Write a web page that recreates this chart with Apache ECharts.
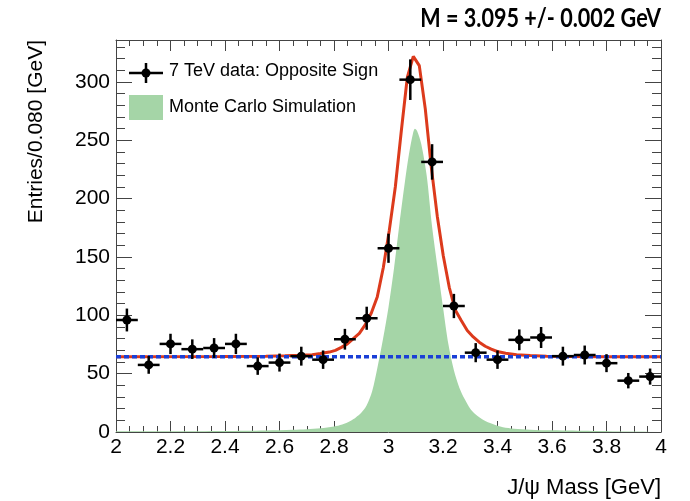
<!DOCTYPE html>
<html><head><meta charset="utf-8">
<script src="https://cdn.jsdelivr.net/npm/echarts@6/dist/echarts.min.js"></script>
<style>html,body{margin:0;padding:0;background:#fff}#c{width:690px;height:501px}</style>
</head><body><div id="c"></div>
<script>
// ---- data ----
const binWidth = 0.08;
const binCenters = [2.04,2.12,2.20,2.28,2.36,2.44,2.52,2.60,2.68,2.76,2.84,2.92,3.00,3.08,3.16,3.24,3.32,3.40,3.48,3.56,3.64,3.72,3.80,3.88,3.96];
const entries    = [96,57.5,75.5,71,72,75.5,56.5,59.5,65,62,79.5,97.5,157.5,302,231.5,108,68,62,79,81,65,66,59,44,47.5];
const entryErrors= [9.8,7.6,8.7,8.4,8.5,8.7,7.5,7.7,8.1,7.9,8.9,9.9,12.5,17.4,15.2,10.4,8.2,7.9,8.9,9.0,8.1,8.1,7.7,6.6,6.9];

const fitX = [2.00,2.40,2.55,2.62,2.68,2.72,2.75,2.783,2.805,2.827,2.849,2.871,2.893,2.915,2.937,2.959,2.981,3.003,3.025,3.047,3.069,3.091,3.113,3.135,3.157,3.179,3.201,3.223,3.245,3.267,3.289,3.311,3.333,3.355,3.377,3.399,3.43,3.47,3.52,3.58,3.66,3.80,4.00];
const fitY = [64.6,64.7,64.9,65.3,65.7,66.3,67.2,68.5,70,72.5,75.5,80,84.5,92,102,116,141,173,210,258,304,322,314,277,227,185,151,124,104.5,95.5,87,81.5,77,73.5,71,69,67.5,66.3,65.5,65.0,64.8,64.6,64.6];

const mcX = [2.00,2.20,2.40,2.55,2.65,2.70,2.75,2.80,2.83,2.86,2.88,2.90,2.92,2.94,2.96,2.98,3.00,3.02,3.04,3.06,3.075,3.09,3.097,3.105,3.12,3.14,3.16,3.18,3.20,3.22,3.24,3.26,3.28,3.30,3.32,3.35,3.38,3.42,3.46,3.52,3.60,3.75,4.00];
const mcY = [0.5,0.6,0.9,1.3,1.9,2.4,3.2,4.8,6.5,9.5,12.5,16.5,23,35,56,80,107,140,178,214,238,256,260,258,247,220,176,141,107,75,53,38,28,20,15,10,7,4,2.8,2.0,1.4,0.9,0.5];

const bkgX = [2.0, 4.0];
const bkgY = [64.6, 64.6];

const xMin = 2, xMax = 4, xStep = 0.2;
const yMin = 0, yMax = 336, yStep = 50;
const titleText = 'M = 3.095 +/- 0.002 GeV';
const xTitle = 'J/\u03C8 Mass [GeV]';
const yTitle = 'Entries/0.080 [GeV]';
const legendData = '7 TeV data: Opposite Sign';
const legendMC = 'Monte Carlo Simulation';

// ---- chart ----
const FONT = '"Liberation Sans", Arial, Helvetica, sans-serif';
const axisCol = '#444';
const chart = echarts.init(document.getElementById('c'), null, {renderer:'canvas'});
const zip = (a,b) => a.map((v,i)=>[v,b[i]]);

function xAxisCfg(pos, labels){
  return {
    type:'value', position:pos, min:xMin, max:xMax, interval:xStep,
    axisLine:{show:true, onZero:false, lineStyle:{color:axisCol, width:1}},
    axisTick:{show:true, inside:true, length:11, lineStyle:{color:axisCol, width:1}},
    minorTick:{show:true, splitNumber:4, length:6, lineStyle:{color:axisCol, width:1}},
    splitLine:{show:false},
    axisLabel:{show:labels, margin:5, fontSize:21, color:'#000', fontFamily:FONT,
      formatter: v => String(Math.round(v*10)/10)}
  };
}
function yAxisCfg(pos, labels){
  return {
    type:'value', position:pos, min:yMin, max:yMax, interval:yStep,
    axisLine:{show:true, onZero:false, lineStyle:{color:axisCol, width:1}},
    axisTick:{show:true, inside:true, length:16, lineStyle:{color:axisCol, width:1}},
    minorTick:{show:true, splitNumber:5, length:9, lineStyle:{color:axisCol, width:1}},
    splitLine:{show:false},
    axisLabel:{show:labels, margin:6, fontSize:21, color:'#000', fontFamily:FONT,
      showMaxLabel:false,
      formatter: v => (v % yStep === 0 ? String(v) : '')}
  };
}

const option = {
  backgroundColor:'#fff',
  animation:false,
  grid:{left:116, right:29, top:40, bottom:69, containLabel:false},
  xAxis:[xAxisCfg('bottom', true), xAxisCfg('top', false)],
  yAxis:[yAxisCfg('left', true), yAxisCfg('right', false)],
  series:[
    {name:legendMC, type:'line', data:zip(mcX, mcY), showSymbol:false, smooth:0.3,
      lineStyle:{width:0}, areaStyle:{color:'#a5d5a7', opacity:1}, z:1},
    {name:'fit', type:'line', data:zip(fitX, fitY), showSymbol:false, smooth:false,
      lineStyle:{color:'#dc3a1c', width:3}, z:2},
    {name:'background', type:'line', data:zip(bkgX, bkgY), showSymbol:false,
      lineStyle:{color:'#1a3fd6', width:3.5, type:[5,3]}, z:3},
    {name:legendData, type:'custom', z:5,
      data: binCenters.map((x,i)=>[x, entries[i], entryErrors[i]]),
      encode:{x:0, y:1},
      renderItem:function(params, api){
        const x = api.value(0), y = api.value(1), e = api.value(2);
        const c = api.coord([x,y]);
        const l = api.coord([x-binWidth/2,y]), r = api.coord([x+binWidth/2,y]);
        const t = api.coord([x,y+e]), b = api.coord([x,y-e]);
        const st = {stroke:'#000', lineWidth:2.5};
        return {type:'group', children:[
          {type:'line', shape:{x1:l[0],y1:l[1],x2:r[0],y2:r[1]}, style:st},
          {type:'line', shape:{x1:t[0],y1:t[1],x2:b[0],y2:b[1]}, style:st},
          {type:'circle', shape:{cx:c[0],cy:c[1],r:4.5}, style:{fill:'#000'}}
        ]};
      }
    }
  ],
  graphic:[
    // title
    {type:'text', x:661, y:18, scaleX:0.8, z:10, style:{text:titleText, font:'bold 27px Lato, "Open Sans", sans-serif', fill:'#000', textAlign:'right', textVerticalAlign:'middle', align:'right', verticalAlign:'middle'}},
    // legend
    {type:'line', shape:{x1:129,y1:73,x2:163,y2:73}, style:{stroke:'#000', lineWidth:2.5}, z:10},
    {type:'line', shape:{x1:146,y1:63,x2:146,y2:83}, style:{stroke:'#000', lineWidth:2.5}, z:10},
    {type:'circle', shape:{cx:146,cy:73,r:4.5}, style:{fill:'#000'}, z:10},
    {type:'text', x:169, y:71, z:10, style:{text:legendData, font:'18px '+FONT, fill:'#000', textAlign:'left', textVerticalAlign:'middle', align:'left', verticalAlign:'middle'}},
    {type:'rect', shape:{x:129,y:95,width:34,height:25}, style:{fill:'#a5d5a7'}, z:10},
    {type:'text', x:169, y:107, z:10, style:{text:legendMC, font:'18px '+FONT, fill:'#000', textAlign:'left', textVerticalAlign:'middle', align:'left', verticalAlign:'middle'}},
    // axis titles
    {type:'text', x:36, y:40, rotation:Math.PI/2, z:10, style:{text:yTitle, font:'21px '+FONT, fill:'#000', textAlign:'right', textVerticalAlign:'middle', align:'right', verticalAlign:'middle'}},
    {type:'text', x:661, y:488, z:10, style:{text:xTitle, font:'22px '+FONT, fill:'#000', textAlign:'right', textVerticalAlign:'middle', align:'right', verticalAlign:'middle'}}
  ]
};
chart.setOption(option);
</script>
</body></html>
